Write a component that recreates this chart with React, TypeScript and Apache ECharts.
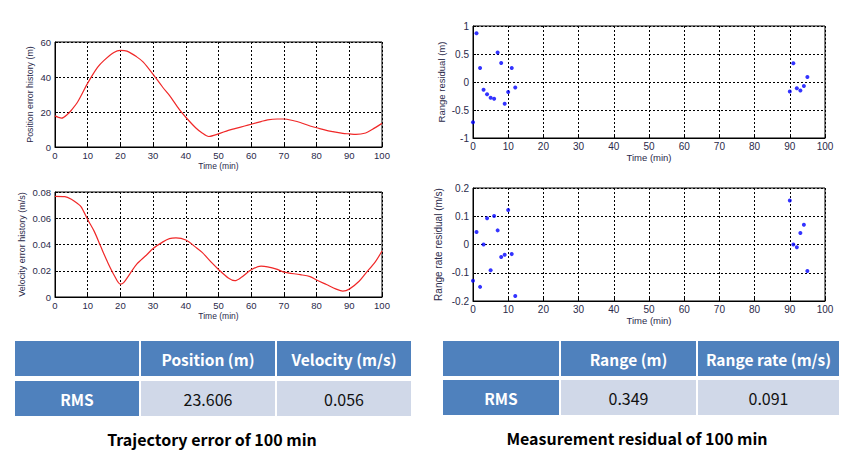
import React, { useEffect, useRef } from "react";
import * as echarts from "echarts";

// ---- Data ----
const posTime = [0, 1, 2, 4, 5, 7, 10, 13, 15, 18, 20, 22, 25, 27, 30, 33, 35, 38, 40, 43, 45, 47, 50, 53, 55, 58, 60, 63, 65, 68, 70, 73, 75, 78, 80, 83, 85, 88, 90, 92, 95, 97, 100];
const posError = [17.8, 17, 16.5, 19, 21, 26, 36.5, 45.5, 49.5, 54, 55.2, 54.8, 51.5, 48.5, 41.5, 34, 29.5, 21.5, 17, 11, 8, 6, 7.5, 9.5, 10.5, 12, 13, 14.5, 15.5, 16, 16, 15, 14, 12, 11, 9.5, 8.8, 7.8, 7.5, 7.2, 8, 10, 13.5];

const velTime = [0, 3, 5, 7, 8, 10, 12, 14, 16, 18, 20, 21, 23, 25, 28, 30, 33, 35, 37, 40, 43, 45, 48, 50, 53, 55, 57, 60, 63, 65, 68, 70, 75, 78, 80, 83, 86, 88, 90, 93, 95, 98, 100];
const velError = [0.0767, 0.0765, 0.0745, 0.071, 0.0687, 0.059, 0.05, 0.0384, 0.027, 0.017, 0.0098, 0.011, 0.018, 0.025, 0.032, 0.037, 0.042, 0.0445, 0.045, 0.0434, 0.038, 0.034, 0.026, 0.021, 0.0145, 0.0125, 0.015, 0.0207, 0.0235, 0.023, 0.021, 0.019, 0.017, 0.0155, 0.013, 0.0095, 0.006, 0.0045, 0.006, 0.012, 0.018, 0.027, 0.035];

const residTime = [0, 1, 2, 3, 4, 5, 6, 7, 8, 9, 10, 11, 12, 90, 91, 92, 93, 94, 95];
const rangeResidual = [-0.72, 0.87, 0.25, -0.14, -0.22, -0.28, -0.3, 0.525, 0.34, -0.39, -0.18, 0.25, -0.1, -0.17, 0.335, -0.11, -0.15, -0.07, 0.09];
const rangeRateResidual = [-0.128, 0.044, -0.15, 0.0, 0.093, -0.091, 0.101, 0.05, -0.044, -0.036, 0.122, -0.034, -0.182, 0.156, 0.0, -0.01, 0.041, 0.07, -0.094];

const trajHeaders = ["Position (m)", "Velocity (m/s)"];
const trajRms = ["23.606", "0.056"];
const measHeaders = ["Range (m)", "Range rate (m/s)"];
const measRms = ["0.349", "0.091"];
const rowLabel = "RMS";
const trajCaption = "Trajectory error of 100 min";
const measCaption = "Measurement residual of 100 min";

const zip = (xs: number[], ys: number[]) => xs.map((x, i) => [x, ys[i]]);

const tickColor = "#2a2a4a";
const sans = "Liberation Sans, Arial, sans-serif";
const kr = "Noto Sans CJK KR, Noto Sans, sans-serif";

function xAxisFor(gridIndex: number, nameSize: number, labelSize: number) {
  return {
    type: "value",
    gridIndex,
    min: 0,
    max: 100,
    interval: 10,
    name: "Time (min)",
    nameLocation: "middle",
    nameGap: 14,
    nameTextStyle: { fontFamily: sans, fontSize: nameSize, color: tickColor },
    axisLine: { show: true, onZero: false, lineStyle: { color: "#000", width: 1 } },
    axisTick: { show: true, inside: true, length: 3, lineStyle: { color: "#000" } },
    axisLabel: { fontFamily: sans, fontSize: labelSize, color: tickColor, margin: 3 },
    splitLine: { show: true, lineStyle: { color: "#000", type: [2, 2], width: 1 } },
  };
}

function yAxisFor(gridIndex: number, min: number, max: number, interval: number, name: string, nameGap: number, nameSize: number, labelSize: number) {
  return {
    type: "value",
    gridIndex,
    min,
    max,
    interval,
    name,
    nameLocation: "middle",
    nameGap,
    nameTextStyle: { fontFamily: sans, fontSize: nameSize, color: tickColor },
    axisLine: { show: true, onZero: false, lineStyle: { color: "#000", width: 1 } },
    axisTick: { show: true, inside: true, length: 3, lineStyle: { color: "#000" } },
    axisLabel: { fontFamily: sans, fontSize: labelSize, color: tickColor, margin: 4 },
    splitLine: { show: true, lineStyle: { color: "#000", type: [2, 2], width: 1 } },
  };
}

function tableGraphics(cols: number[][], rows: number[][], headers: string[], values: string[]) {
  const blue = "#4f81bd";
  const light = "#d0d8e8";
  const els: any[] = [];
  cols.forEach((c, i) => {
    els.push({ type: "rect", shape: { x: c[0], y: rows[0][0], width: c[1] - c[0], height: rows[0][1] - rows[0][0] }, style: { fill: blue } });
    if (i > 0) {
      els.push({
        type: "text",
        x: (c[0] + c[1]) / 2,
        y: (rows[0][0] + rows[0][1]) / 2,
        style: { text: headers[i - 1], fill: "#fff", font: `bold 15.5px ${kr}`, align: "center", verticalAlign: "middle" },
      });
    }
  });
  cols.forEach((c, i) => {
    els.push({ type: "rect", shape: { x: c[0], y: rows[1][0], width: c[1] - c[0], height: rows[1][1] - rows[1][0] }, style: { fill: i === 0 ? blue : light } });
    els.push({
      type: "text",
      x: (c[0] + c[1]) / 2,
      y: (rows[1][0] + rows[1][1]) / 2,
      style: {
        text: i === 0 ? rowLabel : values[i - 1],
        fill: i === 0 ? "#fff" : "#111",
        font: i === 0 ? `bold 15.5px ${kr}` : `16px ${kr}`,
        align: "center",
        verticalAlign: "middle",
      },
    });
  });
  return els;
}

export default function App() {
  const ref = useRef<HTMLDivElement>(null);
  useEffect(() => {
    if (!ref.current) return;
    const chart = echarts.init(ref.current, undefined, { renderer: "svg" });
    const gridBase = { show: true, borderColor: "#000", borderWidth: 1, backgroundColor: "#fff", containLabel: false };
    const option: any = {
      animation: false,
      backgroundColor: "#fff",
      grid: [
        { ...gridBase, left: 55, top: 42, width: 327, height: 105 },
        { ...gridBase, left: 55, top: 192, width: 327, height: 105 },
        { ...gridBase, left: 473, top: 26, width: 352, height: 112 },
        { ...gridBase, left: 473, top: 188, width: 352, height: 113 },
      ],
      xAxis: [xAxisFor(0, 8.5, 9.5), xAxisFor(1, 8.5, 9.5), xAxisFor(2, 9.5, 10), xAxisFor(3, 9.5, 10)],
      yAxis: [
        yAxisFor(0, 0, 60, 20, "Position error history (m)", 21, 8.8, 9.5),
        yAxisFor(1, 0, 0.08, 0.02, "Velocity error history (m/s)", 29, 9, 9.5),
        yAxisFor(2, -1, 1, 0.5, "Range residual (m)", 27, 9.5, 10),
        yAxisFor(3, -0.2, 0.2, 0.1, "Range rate residual (m/s)", 30, 10, 10),
      ],
      series: [
        { type: "line", xAxisIndex: 0, yAxisIndex: 0, data: zip(posTime, posError), smooth: 0.3, showSymbol: false, lineStyle: { color: "#f02828", width: 1.2 } },
        { type: "line", xAxisIndex: 1, yAxisIndex: 1, data: zip(velTime, velError), smooth: 0.3, showSymbol: false, lineStyle: { color: "#f02828", width: 1.2 } },
        { type: "scatter", xAxisIndex: 2, yAxisIndex: 2, data: zip(residTime, rangeResidual), symbol: "circle", symbolSize: 4, itemStyle: { color: "#0000ff" } },
        { type: "scatter", xAxisIndex: 3, yAxisIndex: 3, data: zip(residTime, rangeRateResidual), symbol: "circle", symbolSize: 4, itemStyle: { color: "#0000ff" } },
      ],
      graphic: [
        ...tableGraphics([[15, 139], [141, 275], [277, 411]], [[341, 376], [381, 416]], trajHeaders, trajRms),
        ...tableGraphics([[443, 559], [561, 696], [698, 839]], [[341, 376], [380, 415]], measHeaders, measRms),
        { type: "text", x: 212, y: 439, style: { text: trajCaption, fill: "#000", font: `bold 16px ${kr}`, align: "center", verticalAlign: "middle" } },
        { type: "text", x: 637, y: 438, style: { text: measCaption, fill: "#000", font: `bold 16px ${kr}`, align: "center", verticalAlign: "middle" } },
      ],
    };
    chart.setOption(option);
    return () => chart.dispose();
  }, []);
  return <div ref={ref} style={{ position: "absolute", left: 0, top: 0, width: 868, height: 459 }} />;
}
